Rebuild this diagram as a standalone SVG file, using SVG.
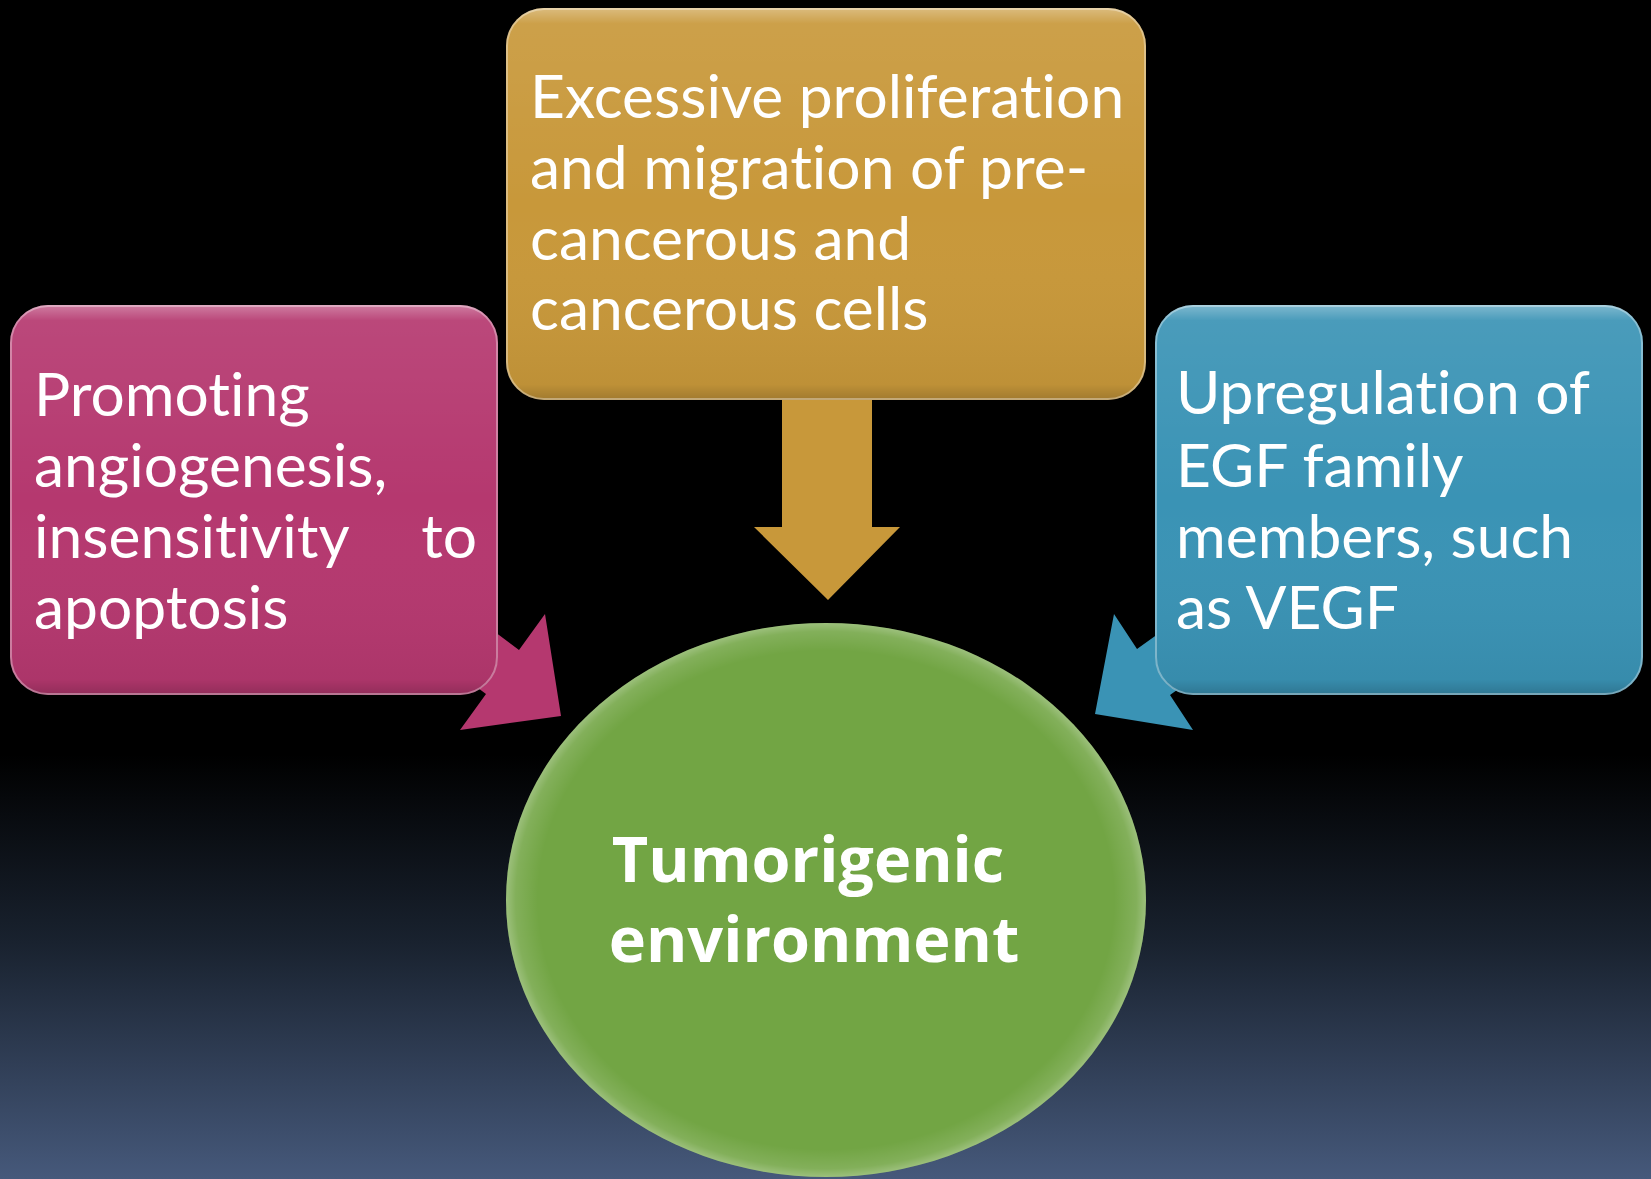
<svg xmlns="http://www.w3.org/2000/svg" width="1651" height="1179" viewBox="0 0 1651 1179">
<defs>
<linearGradient id="bg" x1="0" y1="0" x2="0" y2="1">
<stop offset="0" stop-color="#000"/>
<stop offset="0.64" stop-color="#000"/>
<stop offset="0.8" stop-color="#19222f"/>
<stop offset="1" stop-color="#46597b"/>
</linearGradient>
<linearGradient id="gloss" x1="0" y1="0" x2="0" y2="1">
<stop offset="0" stop-color="#fff" stop-opacity="0.35"/>
<stop offset="0.04" stop-color="#fff" stop-opacity="0.08"/>
<stop offset="0.5" stop-color="#fff" stop-opacity="0"/>
<stop offset="0.96" stop-color="#000" stop-opacity="0.05"/>
<stop offset="1" stop-color="#000" stop-opacity="0.2"/>
</linearGradient>
<radialGradient id="cgloss" cx="0.5" cy="0.5" r="0.5">
<stop offset="0.9" stop-color="#fff" stop-opacity="0"/>
<stop offset="0.97" stop-color="#fff" stop-opacity="0.12"/>
<stop offset="1" stop-color="#fff" stop-opacity="0.3"/>
</radialGradient>
</defs>
<style>
.t{font-family:"Lato","Open Sans","Liberation Sans",sans-serif;font-size:60.5px;fill:#fff;font-variant-ligatures:none}
.b{font-family:"Open Sans","Lato","Liberation Sans",sans-serif;font-size:63px;font-weight:bold;fill:#fff;text-anchor:middle}
.pink{fill:#b5386f}
.gold{fill:#c8983a}
.blue{fill:#3a93b5}
.green{fill:#72a544}
.edge{fill:none;stroke:#fff;stroke-opacity:0.35;stroke-width:2}
</style>
<rect x="0" y="0" width="1651" height="1179" fill="url(#bg)"/>
<g id="connectors">
<polygon class="gold" points="782,395 872,395 872,527 900,527 828,600 754,527 782,527"/>
<polygon class="pink" points="439,590 519,650 545,614 561,716 460,730 486,694 406,634"/>
<polygon class="blue" points="1218,591 1137,649 1114,614 1095,714 1193,730 1170,695 1251,637"/>
</g>
<g id="node-proliferation">
<rect class="gold" x="506" y="8" width="640" height="392" rx="38"/>
<rect x="506" y="8" width="640" height="392" rx="38" fill="url(#gloss)"/>
<rect class="edge" x="507" y="9" width="638" height="390" rx="37"/>
<text class="t" x="530" y="118">Excessive proliferation</text>
<text class="t" x="530" y="189">and migration of pre-</text>
<text class="t" x="530" y="260">cancerous and</text>
<text class="t" x="530" y="330">cancerous cells</text>
</g>
<g id="node-angiogenesis">
<rect class="pink" x="10" y="305" width="488" height="390" rx="38"/>
<rect x="10" y="305" width="488" height="390" rx="38" fill="url(#gloss)"/>
<rect class="edge" x="11" y="306" width="486" height="388" rx="37"/>
<text class="t" x="34" y="416">Promoting</text>
<text class="t" x="34" y="487">angiogenesis,</text>
<text class="t" x="34" y="558">insensitivity</text>
<text class="t" x="477" y="558" text-anchor="end">to</text>
<text class="t" x="34" y="629">apoptosis</text>
</g>
<g id="node-egf">
<rect class="blue" x="1155" y="305" width="488" height="390" rx="38"/>
<rect x="1155" y="305" width="488" height="390" rx="38" fill="url(#gloss)"/>
<rect class="edge" x="1156" y="306" width="486" height="388" rx="37"/>
<text class="t" x="1176" y="414">Upregulation of</text>
<text class="t" x="1176" y="487">EGF family</text>
<text class="t" x="1176" y="558">members, such</text>
<text class="t" x="1176" y="629">as VEGF</text>
</g>
<g id="node-tumorigenic">
<ellipse class="green" cx="826" cy="900" rx="320" ry="277"/>
<ellipse cx="826" cy="900" rx="320" ry="277" fill="url(#cgloss)"/>
<text class="b" x="808" y="882">Tumorigenic</text>
<text class="b" x="814" y="962">environment</text>
</g>
</svg>
